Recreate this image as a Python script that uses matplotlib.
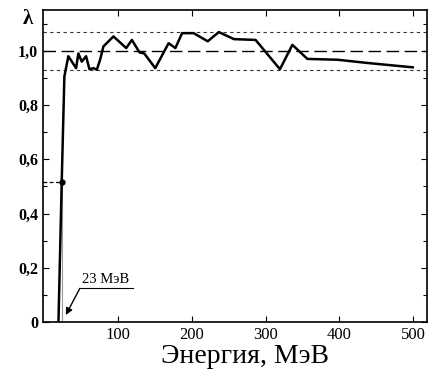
import matplotlib.pyplot as plt

# данные: энергия (МэВ) и λ
energy = [19, 23.4, 27, 32.4, 42.9, 46, 50.6, 56.5, 61, 66.4, 71, 75.5, 80, 93.6,
          110.9, 118.6, 129, 135.4, 150.3, 168.4, 177.6, 186.7, 202.4, 221.5,
          236.5, 257, 286.4, 319.5, 336.3, 356.7, 397.5, 438.4, 499.6]
lam = [0.0, 0.515, 0.905, 0.98, 0.936, 0.99, 0.96, 0.98, 0.932, 0.936, 0.93,
       0.967, 1.016, 1.053, 1.01, 1.04, 0.994, 0.99, 0.936, 1.028, 1.01, 1.065,
       1.065, 1.035, 1.069, 1.043, 1.04, 0.932, 1.022, 0.97, 0.967, 0.955, 0.939]

threshold = 23.4
half_level = 0.515
band = [0.93, 1.07]

plt.rcParams['font.family'] = ['Liberation Serif', 'DejaVu Serif']

fig = plt.figure(figsize=(4.32, 3.74), dpi=100)
ax = fig.add_axes([0.0995, 0.139, 0.889, 0.834])

# горизонтальные линии
ax.axhline(1.0, color='black', lw=1.0, dashes=(9, 4))
for b in band:
    ax.axhline(b, color='#333333', lw=0.8, dashes=(3, 3))

# уровень 0.5 и порог
ax.plot([-2, threshold], [half_level, half_level], color='black', lw=0.9, dashes=(3, 2))
ax.plot([threshold, threshold], [0, half_level], color='#999999', lw=0.8)

# кривая
ax.plot(energy, lam, color='black', lw=1.8)
ax.plot([threshold], [half_level], 'o', color='black', ms=3.5)

# подпись 23 МэВ
ax.plot([48, 120], [0.124, 0.124], color='black', lw=0.8)
ax.annotate('', xy=(29, 0.026), xytext=(48, 0.124),
            arrowprops=dict(arrowstyle='-|>', color='black', lw=1.0,
                            mutation_scale=10, shrinkA=0, shrinkB=0))
ax.text(51, 0.132, '23 МэВ', fontsize=10.5, ha='left', va='bottom')

ax.set_xlim(-2, 519)
ax.set_ylim(0, 1.15)

ax.set_xticks([100, 200, 300, 400, 500])
ax.set_yticks([0, 0.2, 0.4, 0.6, 0.8, 1.0])
ax.set_yticklabels(['0', '0,2', '0,4', '0,6', '0,8', '1,0'], fontweight='bold')
ax.set_yticks([0.1, 0.3, 0.5, 0.7, 0.9, 1.1], minor=True)
ax.tick_params(direction='in', top=True, right=True, labelsize=12, length=4, width=0.8)
ax.tick_params(axis='y', labelsize=11.5)
ax.tick_params(which='minor', direction='in', right=True, length=3, width=0.8)

for s in ax.spines.values():
    s.set_linewidth(1.2)

ax.set_xlabel('Энергия, МэВ', fontsize=20)
ax.xaxis.set_label_coords(0.526, -0.072)
fig.text(0.065, 0.95, 'λ', fontsize=15, fontweight='bold', ha='center', va='center')

fig.savefig('out.png', dpi=100)
